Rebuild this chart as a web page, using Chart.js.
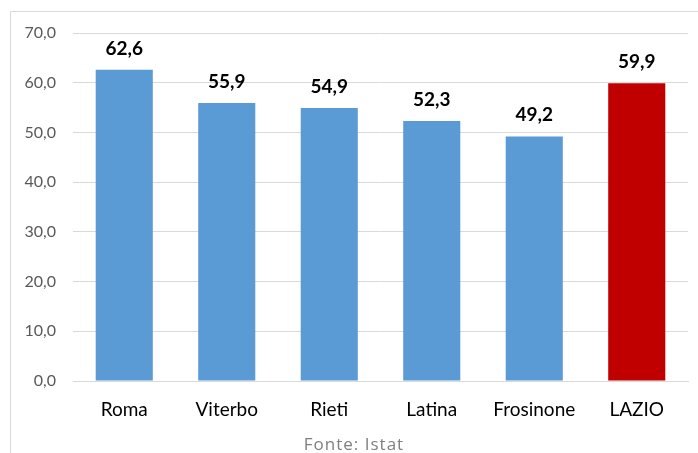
<!DOCTYPE html>
<html><head><meta charset="utf-8">
<script src="https://cdn.jsdelivr.net/npm/chart.js@4/dist/chart.umd.min.js"></script>
<style>html,body{margin:0;padding:0;background:#fff;}#wrap{position:relative;width:698px;height:453px;}</style>
</head><body><div id="wrap"><canvas id="c" width="698" height="453"></canvas></div>
<script>
const categories = ["Roma", "Viterbo", "Rieti", "Latina", "Frosinone", "LAZIO"];
const values = [62.6, 55.9, 54.9, 52.3, 49.2, 59.9];
const barColors = ["#5B9BD5", "#5B9BD5", "#5B9BD5", "#5B9BD5", "#5B9BD5", "#C00000"];
const sourceText = "Fonte: Istat";

const fmt = v => v.toFixed(1).replace('.', ',');

const extras = {
  id: 'extras',
  beforeDraw(chart) {
    const ctx = chart.ctx;
    ctx.save();
    ctx.strokeStyle = '#d9d9d9';
    ctx.lineWidth = 1;
    ctx.beginPath();
    ctx.moveTo(10.5, 453);
    ctx.lineTo(10.5, 11.5);
    ctx.lineTo(698, 11.5);
    ctx.stroke();
    ctx.restore();
  },
  afterDatasetsDraw(chart) {
    const ctx = chart.ctx;
    ctx.save();
    ctx.font = 'bold 19px Lato, sans-serif';
    ctx.fillStyle = '#000';
    ctx.textAlign = 'center';
    ctx.textBaseline = 'alphabetic';
    chart.getDatasetMeta(0).data.forEach((bar, i) => {
      ctx.fillText(fmt(values[i]), bar.x, bar.y - 15);
    });
    ctx.font = '17px "Open Sans", sans-serif';
    ctx.letterSpacing = '1px';
    ctx.fillStyle = '#7f7f7f';
    ctx.fillText(sourceText, 354, 450);
    ctx.restore();
  }
};

new Chart(document.getElementById('c'), {
  type: 'bar',
  data: {
    labels: categories,
    datasets: [{ data: values, backgroundColor: barColors, categoryPercentage: 1, barPercentage: 0.557 }]
  },
  options: {
    responsive: false,
    animation: false,
    layout: { padding: { left: 0, right: 10, top: 33, bottom: 0 } },
    plugins: { legend: { display: false }, tooltip: { enabled: false } },
    scales: {
      x: {
        grid: { display: false, drawTicks: false },
        border: { display: true, color: '#d9d9d9', width: 1 },
        ticks: { color: '#000', font: { family: 'Lato, sans-serif', size: 19 }, padding: 17, maxRotation: 0 },
        afterFit(s) { s.height = 72; }
      },
      y: {
        min: 0, max: 70,
        ticks: { stepSize: 10, color: '#595959', font: { family: 'Lato, sans-serif', size: 16 }, padding: 17,
                 callback: v => fmt(v) },
        grid: { color: '#d9d9d9', drawTicks: false },
        border: { display: false },
        afterFit(s) { s.width = 73; }
      }
    }
  },
  plugins: [extras]
});
</script></body></html>
